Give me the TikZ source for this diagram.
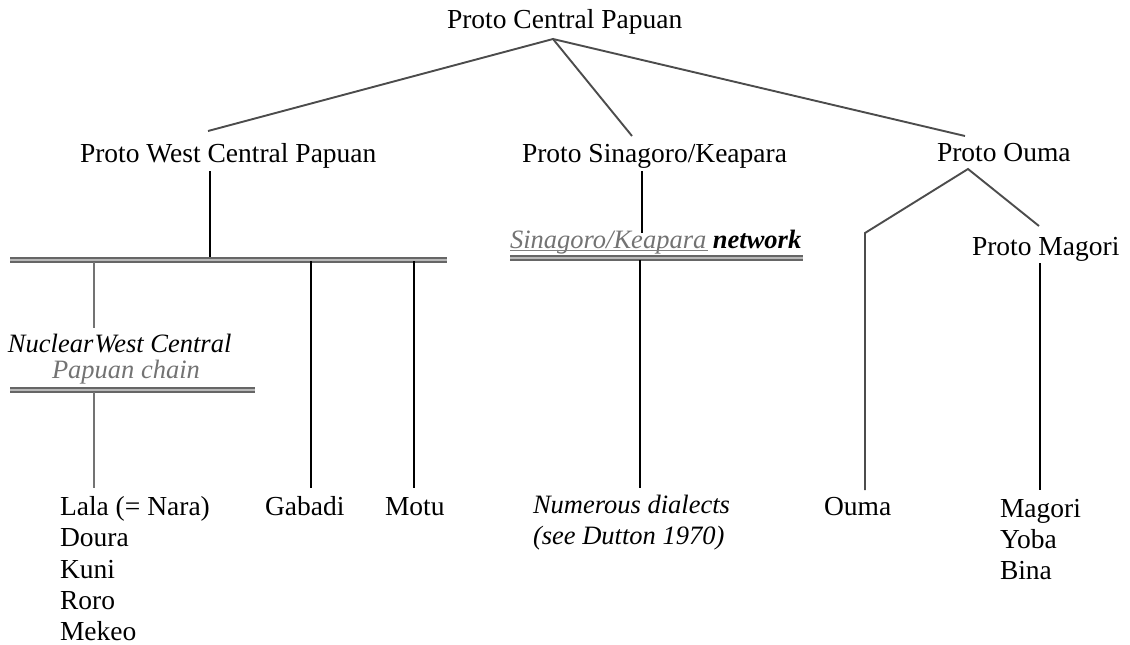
\documentclass[tikz,border=0pt]{standalone}
\usepackage{fontspec}
\setmainfont{Liberation Serif}
\begin{document}
\begin{tikzpicture}[x=1pt,y=-1pt,
  every node/.style={inner sep=0pt, outer sep=0pt, anchor=base west,
    font=\fontsize{27.5}{31}\selectfont},
  itl/.style={font=\fontsize{26.5}{31}\selectfont\itshape},
  greytxt/.style={text=black!55},
  branch/.style={draw=black!70, line width=1.9pt},
  stem/.style={draw=black, line width=2.8pt},
  greystem/.style={draw=black!55, line width=2.4pt},
  underl/.style={draw=black!50, line width=1pt},
  dbl/.style={draw=black!60, line width=2.1pt, double=black!28, double distance=1.5pt}]
\useasboundingbox (0,0) rectangle (1130,645);

% top level
\node (pcp) at (447,28) {Proto Central Papuan};
\coordinate (pcp-foot) at (553,39);

% second level
\node (pwcp) at (80,162) {Proto West Central Papuan};
\node (psk)  at (522,162) {Proto Sinagoro/Keapara};
\node (pou)  at (937,161) {Proto Ouma};
\coordinate (pwcp-top) at (208,131);
\coordinate (psk-top)  at (632,136);
\coordinate (pou-top)  at (965,136);

\draw[branch] (pwcp-top) -- (pcp-foot) -- (psk-top);
\draw[branch] (pcp-foot) -- (pou-top);

% west central: chain bar
\coordinate (pwcp-foot) at (210,171);
\coordinate (bar1-w) at (10,260);
\coordinate (bar1-e) at (447,260);
\draw[stem] (pwcp-foot) -- (210,260);
\draw[dbl] (bar1-w) -- (bar1-e);

\node[itl] (nwc) at (8,352) {Nuclear\hspace{0.05em}West Central};
\node[itl,greytxt] (pch) at (52,378) {Papuan chain};
\coordinate (nwc-top) at (94,328);
\draw[greystem] (94,262) -- (nwc-top);
\coordinate (bar2-w) at (10,390);
\coordinate (bar2-e) at (255,390);
\draw[dbl] (bar2-w) -- (bar2-e);

\node (lala)  at (60,515) {Lala (= Nara)};
\node (doura) at (60,546.5) {Doura};
\node (kuni)  at (60,578) {Kuni};
\node (roro)  at (60,609) {Roro};
\node (mekeo) at (60,640) {Mekeo};
\coordinate (lala-top) at (94,488);
\draw[greystem] (94,392) -- (lala-top);

\node (gab) at (265,515) {Gabadi};
\node (mot) at (385,515) {Motu};
\coordinate (gab-top) at (311,488);
\coordinate (mot-top) at (414,488);
\draw[stem] (311,261) -- (gab-top);
\draw[stem] (414,261) -- (mot-top);

% sinagoro / keapara network
\coordinate (psk-foot) at (642,171);
\coordinate (skn-top) at (642,233);
\draw[stem] (psk-foot) -- (skn-top);
\node[itl] (skn) at (510,248) {\textcolor{black!55}{Sinagoro/Keapara} \textbf{network}};
\draw[underl] (510,250.5) -- (708,250.5);
\coordinate (bar3-w) at (510,258);
\coordinate (bar3-e) at (803,258);
\draw[dbl] (bar3-w) -- (bar3-e);
\coordinate (num-top) at (640,488);
\draw[stem] (640,260) -- (num-top);
\node[itl] (num) at (533,513) {Numerous dialects};
\node[itl] (dut) at (533,544) {(see Dutton 1970)};

% ouma
\coordinate (pou-foot) at (968,169);
\coordinate (ouma-top) at (865,490);
\coordinate (pmag-top) at (1039,226);
\draw[branch] (ouma-top) -- (865,233) -- (pou-foot) -- (pmag-top);
\node (pmag) at (972,255) {Proto Magori};
\coordinate (pmag-foot) at (1040,263);
\coordinate (mag-top) at (1040,490);
\draw[stem] (pmag-foot) -- (mag-top);

\node (ouma) at (824,515) {Ouma};
\node (mag)  at (1000,517) {Magori};
\node (yoba) at (1000,548) {Yoba};
\node (bina) at (1000,579) {Bina};
\end{tikzpicture}
\end{document}
